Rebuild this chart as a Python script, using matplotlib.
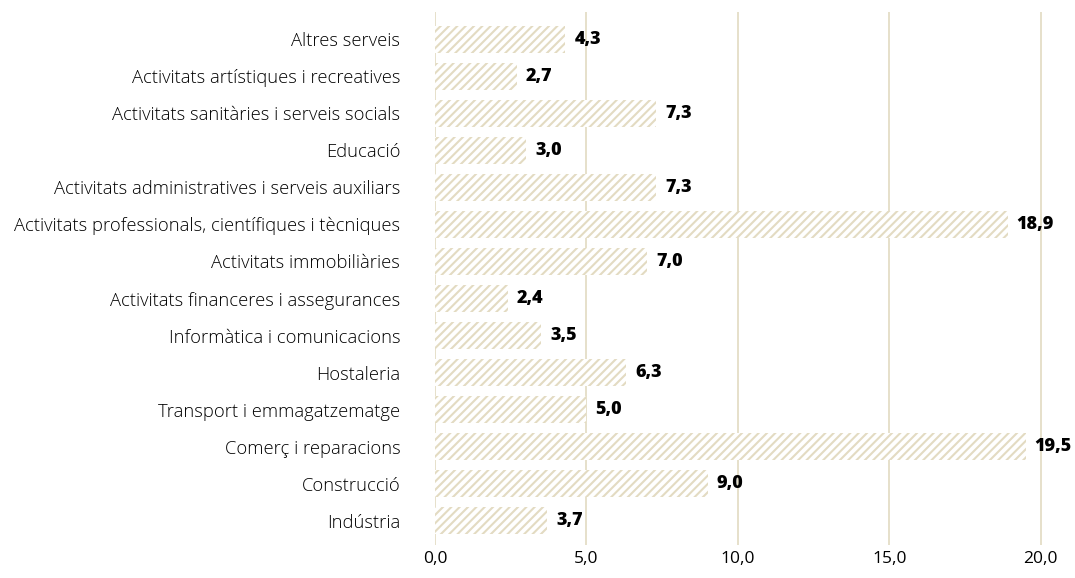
import matplotlib
matplotlib.use("Agg")
import matplotlib.pyplot as plt

# sectors, bottom to top
sectors = [
    "Indústria",
    "Construcció",
    "Comerç i reparacions",
    "Transport i emmagatzematge",
    "Hostaleria",
    "Informàtica i comunicacions",
    "Activitats financeres i assegurances",
    "Activitats immobiliàries",
    "Activitats professionals, científiques i tècniques",
    "Activitats administratives i serveis auxiliars",
    "Educació",
    "Activitats sanitàries i serveis socials",
    "Activitats artístiques i recreatives",
    "Altres serveis",
]
values = [3.7, 9.0, 19.5, 5.0, 6.3, 3.5, 2.4, 7.0, 18.9, 7.3, 3.0, 7.3, 2.7, 4.3]
xticks = [0, 5, 10, 15, 20]

plt.rcParams['font.family'] = ['Open Sans', 'DejaVu Sans']
plt.rcParams['hatch.linewidth'] = 1.5
plt.rcParams['hatch.color'] = '#e3dbc2'

fig = plt.figure(figsize=(10.75, 5.78), dpi=100)
ax = fig.add_axes([435 / 1075, 1 - 545 / 578, 621 / 1075, 533 / 578])

ypos = list(range(len(sectors)))
ax.barh(ypos, values, height=0.73, color='white', edgecolor='#e3dbc2',
        linewidth=0, hatch='////', zorder=2)

for y, v in zip(ypos, values):
    ax.text(v + 0.3, y, f"{v:.1f}".replace('.', ','), va='center', ha='left',
            fontsize=13, fontweight='heavy', color='black', zorder=3)

ax.set_xlim(0, 20.5)
ax.set_ylim(-0.65, 13.73)
ax.set_xticks(xticks)
ax.set_xticklabels([f"{t:.1f}".replace('.', ',') for t in xticks], fontsize=12.5)
ax.set_yticks(ypos)
ax.set_yticklabels(sectors, fontsize=13.2, fontweight='light')
ax.tick_params(axis='both', length=0)
ax.tick_params(axis='y', pad=25)
ax.tick_params(axis='x', pad=4)

ax.xaxis.grid(True, color='#e4ddc6', linewidth=1.3, zorder=0)
ax.set_axisbelow(True)
for s in ax.spines.values():
    s.set_visible(False)

fig.savefig('out.png', dpi=100)
